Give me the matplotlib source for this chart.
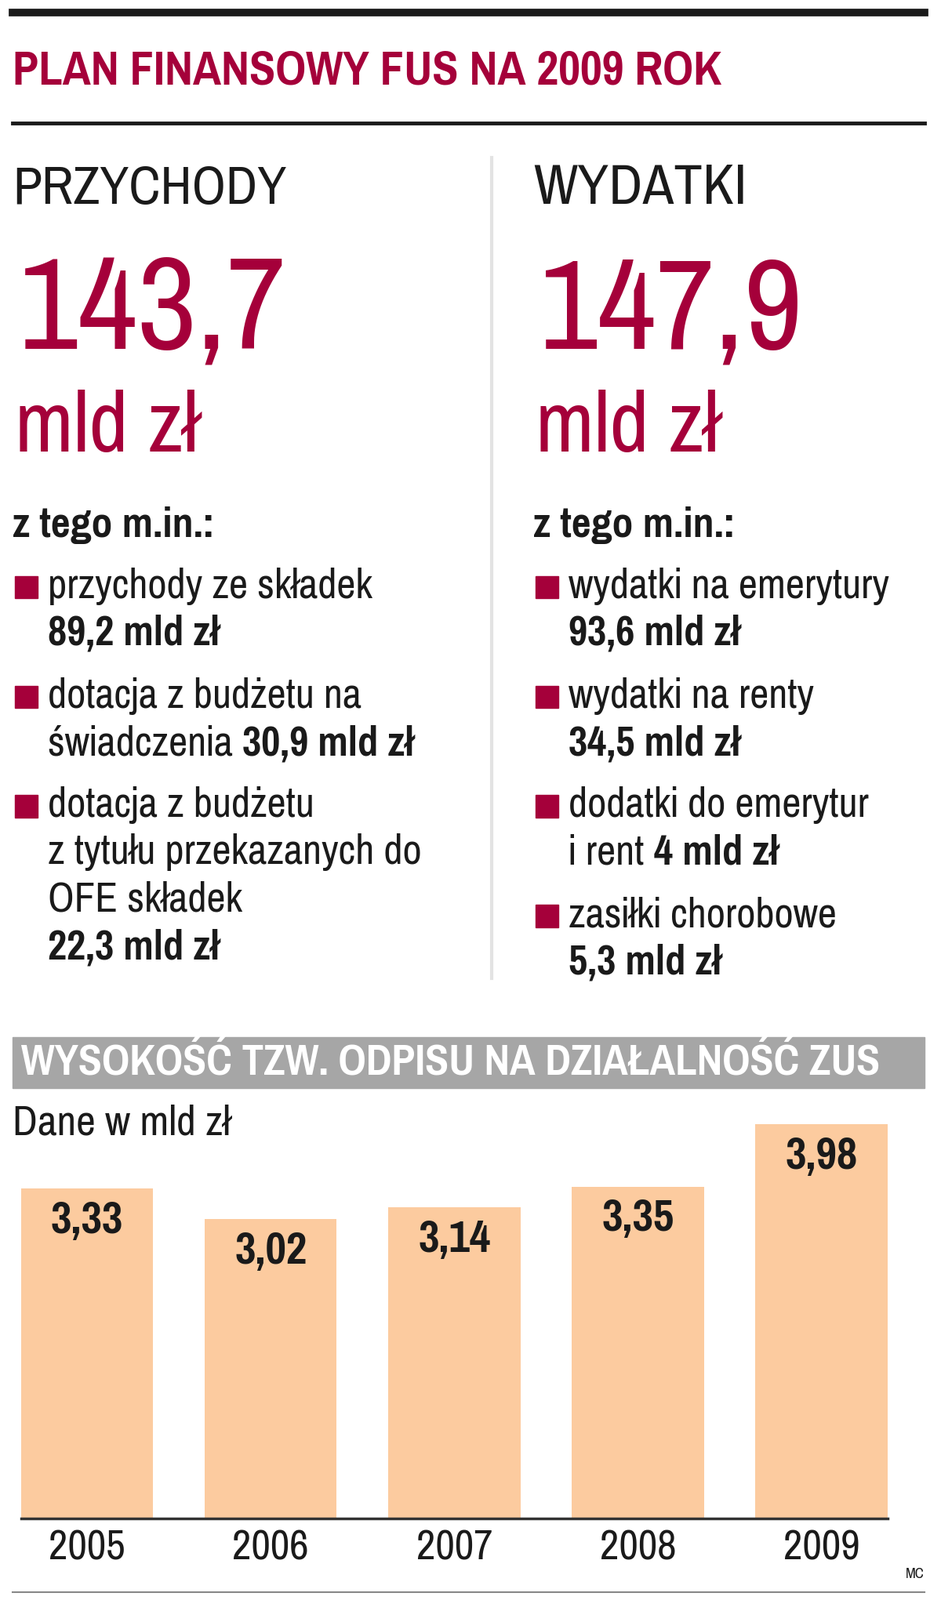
import matplotlib
matplotlib.use("Agg")
import matplotlib.pyplot as plt
from matplotlib.patches import Rectangle
from matplotlib import font_manager as fm

years = ["2005", "2006", "2007", "2008", "2009"]
values = [3.33, 3.02, 3.14, 3.35, 3.98]
value_labels = ["3,33", "3,02", "3,14", "3,35", "3,98"]

title = "PLAN FINANSOWY FUS NA 2009 ROK"
left_head, left_total = "PRZYCHODY", "143,7"
right_head, right_total = "WYDATKI", "147,9"
left_items = [[("przychody ze składek", False), ("\n89,2 mld zł", True)],
              [("dotacja z budżetu na", False), ("\nświadczenia ", False), ("30,9 mld zł", True)],
              [("dotacja z budżetu", False), ("\nz tytułu przekazanych do", False), ("\nOFE składek", False), ("\n22,3 mld zł", True)]]
right_items = [[("wydatki na emerytury", False), ("\n93,6 mld zł", True)],
               [("wydatki na renty", False), ("\n34,5 mld zł", True)],
               [("dodatki do emerytur", False), ("\ni rent ", False), ("4 mld zł", True)],
               [("zasiłki chorobowe", False), ("\n5,3 mld zł", True)]]

RED = "#a5003a"

# choose a condensed font if one exists
FONT, STRETCH = "Roboto", "normal"
cands = [f for f in fm.fontManager.ttflist
         if ("Narrow" in f.name or "Condensed" in f.name or
             str(f.stretch) in ("condensed", "semi-condensed", "extra-condensed", "75", "87"))]
pref = sorted(cands, key=lambda f: (0 if "Narrow" in f.name else 1 if "Condensed" in f.name else 2))
if pref:
    FONT, STRETCH = pref[0].name, pref[0].stretch

W, H = 900, 1570
S = 1200 / 900

fig = plt.figure(figsize=(12, 20.41), dpi=100)
bg = fig.add_axes([0, 0, 1, 1])
bg.set_xlim(0, W); bg.set_ylim(H, 0); bg.axis("off")
R = fig.canvas.get_renderer()

def width_of(s, size, bold):
    tt = bg.text(0, 0, s, fontsize=size, fontfamily=FONT, fontstretch=STRETCH,
                 fontweight="bold" if bold else "normal")
    w = tt.get_window_extent(R).width / S
    tt.remove()
    return w

def fit_size(s, target_w, bold=False, maxsize=None):
    size = 10 * target_w / width_of(s, 10, bold)
    if maxsize:
        size = min(size, maxsize * S)
    return size

def t(x, y, s, size, color="#1a1a1a", bold=False, **kw):
    return bg.text(x, y, s, fontsize=size, color=color, fontfamily=FONT, fontstretch=STRETCH,
                   fontweight="bold" if bold else "normal", **kw)

bg.plot([12, 884], [12, 12], color="#1a1a1a", lw=7)
bg.plot([12, 884], [121, 121], color="#1a1a1a", lw=3.5)
bg.plot([470, 470], [155, 960], color="#e3e3e3", lw=3)
t(12, 70, title, fit_size(title, 676, True, 42), RED, True, va="center")

item_size = fit_size("przychody ze składek", 311, False, 38)
zt_size = fit_size("z tego m.in.:", 195, True, 38)
for x0, head, hw, total, tw, items, ys in [
        (12, left_head, 260, left_total, 258, left_items, [575, 683, 790]),
        (510, right_head, 203, right_total, 254, right_items, [575, 683, 790, 898])]:
    t(x0, 200, head, fit_size(head, hw, False, 56), va="baseline")
    t(x0 + 6, 342, total, fit_size(total, tw, False, 150), RED, va="baseline")
    t(x0 + 2, 443, "mld zł", fit_size("mld zł", 177, False, 90), RED, va="baseline")
    t(x0, 515, "z tego m.in.:", zt_size, bold=True, va="center")
    for y, parts in zip(ys, items):
        bg.add_patch(Rectangle((x0 + 2, y - 10), 22, 22, color=RED))
        line, xoff = 0, 0
        for txt, b in parts:
            if txt.startswith("\n"):
                line += 1; txt = txt[1:]; xoff = 0
            t(x0 + 34 + xoff, y + line * 46.5, txt, item_size, bold=b, va="center")
            xoff += width_of(txt, item_size, b)

bg.add_patch(Rectangle((12, 1018), 872, 50, color="#a6a6a6"))
hdr = "WYSOKOŚĆ TZW. ODPISU NA DZIAŁALNOŚĆ ZUS"
t(20, 1043, hdr, fit_size(hdr, 818, True, 40), "white", True, va="center")
t(12, 1102, "Dane w mld zł", fit_size("Dane w mld zł", 208, False, 38), va="center")
t(884, 1545, "MC", 11 * S, ha="right", va="center")
bg.plot([12, 884], [1562, 1562], color="#888888", lw=1.5)

x_left, x_right, y_base, y_top = 20, 849, 1490, 1490 - 4 * 97.2
ax = fig.add_axes([x_left / W, 1 - y_base / H, (x_right - x_left) / W, (y_base - y_top) / H])
ax.set_xlim(-0.36, 4.36); ax.set_ylim(0, 4.0)
xs = list(range(len(years)))
ax.bar(xs, values, width=0.72, color="#fccb9f")
lab_size = fit_size("3,33", 70, True, 40)
for x, v, lab in zip(xs, values, value_labels):
    ax.text(x, v - 0.32, lab, ha="center", va="center", fontsize=lab_size,
            fontfamily=FONT, fontstretch=STRETCH, fontweight="bold", color="#1a1a1a")
ax.set_xticks(xs)
ax.set_xticklabels(years, fontsize=fit_size("2005", 73, False, 40), fontfamily=FONT,
                   fontstretch=STRETCH, color="#1a1a1a")
ax.tick_params(axis="x", length=0, pad=10)
ax.set_yticks([])
for s in ["top", "left", "right"]:
    ax.spines[s].set_visible(False)
ax.spines["bottom"].set_linewidth(2.5); ax.spines["bottom"].set_color("#333333")
ax.patch.set_alpha(0)

fig.savefig("out.png", dpi=100)
